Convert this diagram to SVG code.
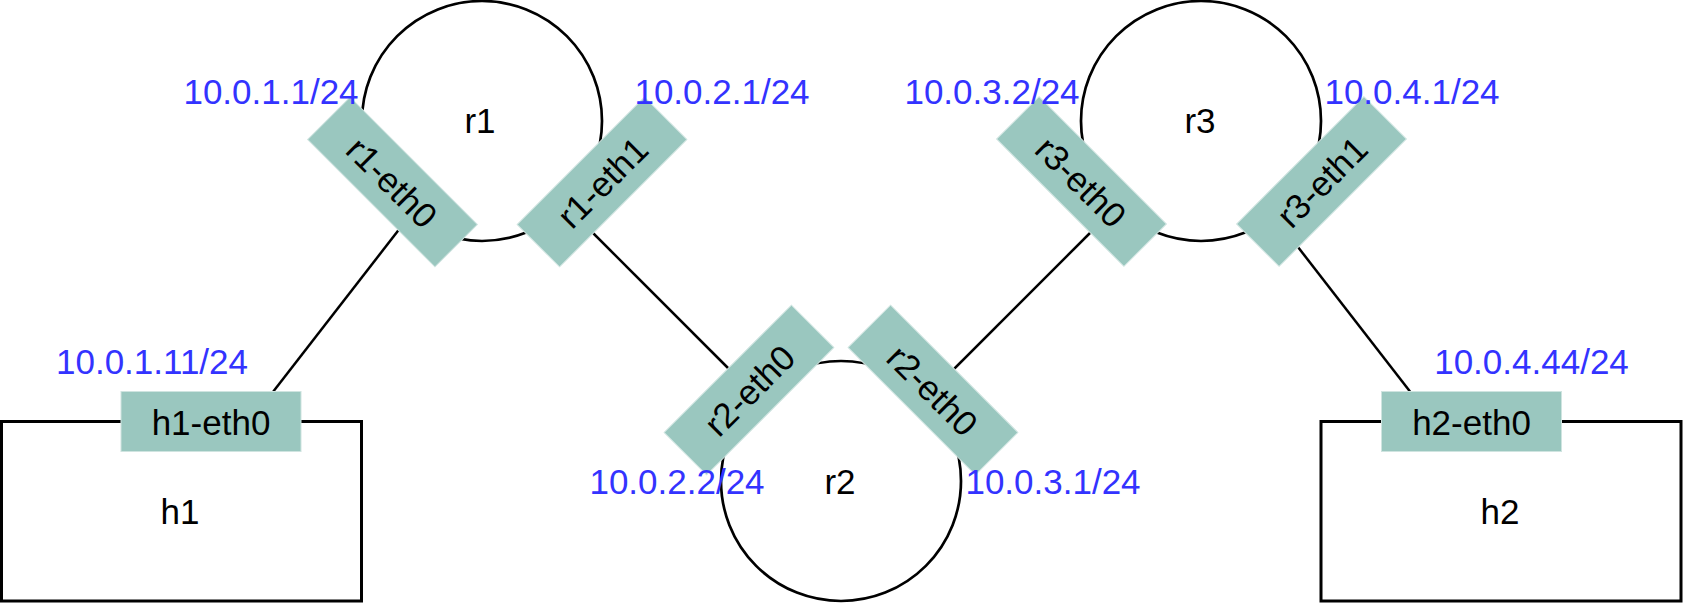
<svg xmlns="http://www.w3.org/2000/svg" width="1683" height="603" viewBox="0 0 1683 603">
<style>
.bg{fill:#ffffff}
.link{stroke:#000;stroke-width:2.5;fill:none}
.router{fill:#fff;stroke:#000;stroke-width:2.7}
.host{fill:#fff;stroke:#000;stroke-width:3}
.iface{fill:#9AC7BF;stroke:#cfe4e0;stroke-width:1}
.t{font-family:"Liberation Sans",Arial,sans-serif;font-size:35px;fill:#000;text-anchor:middle}
.ip{font-family:"Liberation Sans",Arial,sans-serif;font-size:35px;fill:#3333FF;text-anchor:middle}
</style>
<rect class="bg" x="0" y="0" width="1683" height="603"/>
<g id="connectors">
<line class="link" x1="273.3" y1="391.5" x2="418" y2="205"/>
<line class="link" x1="585" y1="225" x2="749" y2="389"/>
<line class="link" x1="933" y1="390" x2="1095" y2="228"/>
<line class="link" x1="1277" y1="220" x2="1410" y2="391.5"/>
</g>
<g id="r1">
<circle class="router" cx="482" cy="121" r="120"/>
<text class="t" x="480" y="133">r1</text>
</g>
<g id="r2">
<circle class="router" cx="841" cy="481" r="120"/>
<text class="t" x="840" y="494">r2</text>
</g>
<g id="r3">
<circle class="router" cx="1201" cy="121" r="120"/>
<text class="t" x="1200" y="133">r3</text>
</g>
<g id="h1">
<rect class="host" x="1.5" y="421.5" width="360" height="179.5"/>
<text class="t" x="180" y="524">h1</text>
</g>
<g id="h2">
<rect class="host" x="1321" y="421.5" width="360" height="179.5"/>
<text class="t" x="1500" y="524">h2</text>
</g>
<g id="h1-eth0">
<rect class="iface" x="121" y="391.5" width="180" height="60"/>
<text class="t" x="211" y="435">h1-eth0</text>
</g>
<g id="h2-eth0">
<rect class="iface" x="1381.5" y="391.5" width="180" height="60"/>
<text class="t" x="1471.5" y="435">h2-eth0</text>
</g>
<g id="r1-eth0" transform="translate(392.5 182) rotate(45)">
<rect class="iface" x="-90" y="-30" width="180" height="60"/>
<text class="t" x="0" y="13">r1-eth0</text>
</g>
<g id="r1-eth1" transform="translate(602 182) rotate(-45)">
<rect class="iface" x="-90" y="-30" width="180" height="60"/>
<text class="t" x="0" y="13">r1-eth1</text>
</g>
<g id="r2-eth0-a" transform="translate(749 390) rotate(-45)">
<rect class="iface" x="-90" y="-30" width="180" height="60"/>
<text class="t" x="0" y="13">r2-eth0</text>
</g>
<g id="r2-eth0-b" transform="translate(933 390) rotate(45)">
<rect class="iface" x="-90" y="-30" width="180" height="60"/>
<text class="t" x="0" y="13">r2-eth0</text>
</g>
<g id="r3-eth0" transform="translate(1081.5 181.5) rotate(45)">
<rect class="iface" x="-90" y="-30" width="180" height="60"/>
<text class="t" x="0" y="13">r3-eth0</text>
</g>
<g id="r3-eth1" transform="translate(1321.5 181.5) rotate(-45)">
<rect class="iface" x="-90" y="-30" width="180" height="60"/>
<text class="t" x="0" y="13">r3-eth1</text>
</g>
<g id="ip-labels">
<text class="ip" x="271" y="104">10.0.1.1/24</text>
<text class="ip" x="722" y="104">10.0.2.1/24</text>
<text class="ip" x="992" y="104">10.0.3.2/24</text>
<text class="ip" x="1412" y="104">10.0.4.1/24</text>
<text class="ip" x="152" y="374">10.0.1.11/24</text>
<text class="ip" x="1531.5" y="374">10.0.4.44/24</text>
<text class="ip" x="677" y="494">10.0.2.2/24</text>
<text class="ip" x="1053" y="494">10.0.3.1/24</text>
</g>
</svg>
